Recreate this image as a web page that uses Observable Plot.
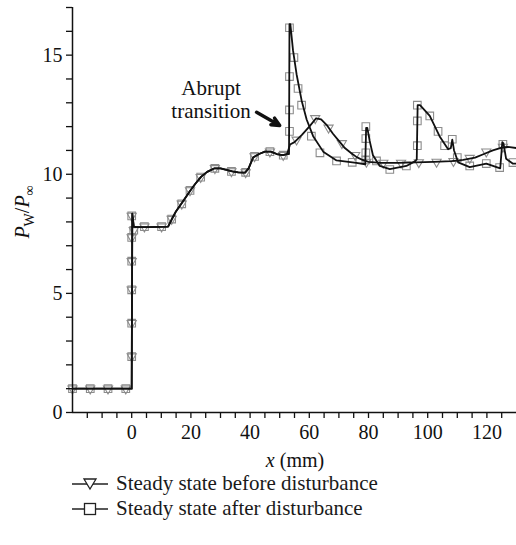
<!DOCTYPE html>
<html><head><meta charset="utf-8">
<script src="https://cdn.jsdelivr.net/npm/d3@7"></script>
<script src="https://cdn.jsdelivr.net/npm/@observablehq/plot@0.6"></script>
<style>
body{margin:0;background:#fff;font-family:"Liberation Serif",serif;}
#wrap{position:relative;width:516px;height:545px;}
#legend{position:absolute;left:72px;top:471px;font-size:21px;color:#1a1a1a;}
.row{display:flex;align-items:center;height:25px;}
.row svg{margin-right:8px;}
</style></head><body>
<div id="wrap"><div id="chart"></div><div id="legend"></div></div>
<script>
// ---- data ----
const seriesNames = ["Steady state before disturbance", "Steady state after disturbance"];

// common part of both curves (x in mm, y = Pw/P∞)
const sharedLineX = [-20, 0, 0.2, 0.7, 1.5, 6, 12.3, 13.5, 15, 17, 19.7, 21.5, 23.5, 25.5, 28, 30, 32, 34, 36, 38.3, 39.5, 41, 43, 45, 47, 49, 51, 52.5];
const sharedLineY = [1.0, 1.0, 8.35, 7.8, 7.78, 7.78, 7.8, 8.1, 8.45, 8.8, 9.3, 9.6, 9.9, 10.1, 10.25, 10.25, 10.18, 10.12, 10.08, 10.07, 10.25, 10.7, 10.85, 10.95, 10.95, 10.85, 10.8, 10.85];
const beforeTailX = [53.5, 55, 57.5, 60, 62.3, 64, 66, 68, 70, 72, 74, 76, 78, 80, 84, 90, 96, 102, 108, 112, 116, 119, 122, 125, 127, 130];
const beforeTailY = [11.25, 11.35, 11.65, 12.0, 12.35, 12.3, 12.05, 11.7, 11.4, 11.1, 10.9, 10.72, 10.6, 10.52, 10.48, 10.48, 10.5, 10.52, 10.55, 10.6, 10.7, 10.85, 11.0, 11.12, 11.15, 11.1];
const afterTailX = [53.15, 53.3, 53.6, 54.5, 55.7, 57.4, 59.1, 61.3, 64.7, 69.2, 75.9, 78.9, 79.2, 79.6, 80.4, 81.5, 83.8, 87.2, 92.8, 95.8, 96.3, 96.6, 97.4, 100.7, 104, 106.9, 107.8, 108.3, 108.9, 110.3, 114.2, 119.8, 124.5, 125.2, 125.6, 126.5, 128.7, 130];
const afterTailY = [10.85, 16.3, 16.3, 15.2, 14.2, 13.1, 12.3, 11.6, 10.95, 10.58, 10.48, 10.42, 11.95, 11.95, 11.4, 10.8, 10.35, 10.22, 10.35, 10.55, 10.62, 12.9, 12.9, 12.45, 11.6, 11.05, 11.1, 11.45, 11.0, 10.5, 10.3, 10.45, 10.25, 11.35, 11.3, 10.65, 10.45, 10.45];

// marker positions
const sharedMarkX = [-20, -14, -8, -2, 0, 0, 0, 0, 0, 0, 0.7, 4.3, 10.1, 13.5, 16.9, 19.7, 23.3, 28.1, 33.7, 38.5, 41.5, 46.7, 51.2];
const sharedMarkY = [1.0, 1.0, 1.0, 1.0, 2.35, 3.75, 5.15, 6.35, 7.35, 8.25, 7.65, 7.8, 7.8, 8.12, 8.76, 9.32, 9.88, 10.25, 10.12, 10.08, 10.75, 10.95, 10.8];
const beforeMarkTailX = [55.7, 62, 66.5, 71, 75.5, 79.3, 85, 91, 97, 103, 108.7, 114.2, 119.8, 125.4];
const beforeMarkTailY = [11.45, 12.35, 11.95, 11.3, 10.8, 10.52, 10.48, 10.48, 10.5, 10.52, 10.55, 10.68, 10.95, 11.15];
const afterMarkTailX = [53.3, 53.3, 53.3, 53.3, 54.8, 56.2, 57.4, 60.7, 63.6, 69.2, 74.5, 79.1, 79.1, 79.1, 79.1, 82.7, 87.2, 92.8, 96.5, 96.5, 96.5, 100.7, 103.5, 105.7, 108.3, 110, 114.2, 119.8, 124.3, 125.4, 128.8];
const afterMarkTailY = [11.8, 12.7, 14.1, 16.15, 14.9, 13.6, 12.9, 11.6, 10.9, 10.56, 10.5, 12.0, 11.5, 10.9, 10.6, 10.56, 10.2, 10.35, 11.2, 12.24, 12.9, 12.45, 11.8, 11.2, 11.47, 10.7, 10.35, 10.45, 10.28, 11.26, 10.49];

// annotation
const annotText = ["Abrupt\ntransition"];
const annotXY = [26.8, 13.17];
const arrowXY = [42.2, 12.6, 50.0, 12.05];

const yTicks = d3.range(0, 18, 1);
const xTicks = d3.range(-15, 130, 5);

// ---- build tables ----
const zip = (xs, ys) => xs.map((x, i) => ({x, y: ys[i]}));
const beforeLine = zip(sharedLineX.concat(beforeTailX), sharedLineY.concat(beforeTailY));
const afterLine = zip(sharedLineX.concat(afterTailX), sharedLineY.concat(afterTailY));
const beforeMarks = zip(sharedMarkX.concat(beforeMarkTailX), sharedMarkY.concat(beforeMarkTailY));
const afterMarks = zip(sharedMarkX.concat(afterMarkTailX), sharedMarkY.concat(afterMarkTailY));

const markerColor = "#8c8c8c";
const serif = "Liberation Serif";

const chart = Plot.plot({
  width: 516, height: 470,
  marginLeft: 72, marginRight: 0, marginTop: 7, marginBottom: 58,
  style: {fontFamily: serif, fontSize: "20px", color: "#111", background: "white", overflow: "visible"},
  x: {domain: [-20, 130], axis: null},
  y: {domain: [0, 17], axis: null},
  marks: [
    Plot.dot(afterMarks, {x: "x", y: "y", symbol: "square", r: 4.3, stroke: markerColor, strokeWidth: 1.1, fill: "none"}),
    Plot.dot(beforeMarks, {x: "x", y: "y", symbol: "triangle", rotate: 180, r: 3.4, stroke: markerColor, strokeWidth: 1.1, fill: "none"}),
    Plot.line(beforeLine, {x: "x", y: "y", stroke: "#111", strokeWidth: 1.8}),
    Plot.line(afterLine, {x: "x", y: "y", stroke: "#111", strokeWidth: 1.8}),
    Plot.ruleX([-20], {y1: 0, y2: 17, stroke: "#111", strokeWidth: 1.5}),
    Plot.ruleY([0], {x1: -20, x2: 130, stroke: "#111", strokeWidth: 1.5}),
    Plot.axisY({ticks: yTicks, tickFormat: d => d % 5 === 0 ? String(d) : "", tickSize: 6, tickPadding: 4, strokeWidth: 1.3, label: null, fontSize: 20}),
    Plot.axisX({ticks: xTicks, tickFormat: d => d % 20 === 0 ? String(d) : "", tickSize: 6, tickPadding: 6, strokeWidth: 1.3, label: null, fontSize: 20}),
    Plot.text(annotText, {x: annotXY[0], y: annotXY[1], text: d => d, fontSize: 21, lineHeight: 1.1, textAnchor: "middle", fill: "#111"}),
    Plot.arrow([arrowXY], {x1: d => d[0], y1: d => d[1], x2: d => d[2], y2: d => d[3], stroke: "#111", strokeWidth: 3.5, headLength: 9, headAngle: 50})
  ]
});
document.getElementById("chart").append(chart);

// axis titles as real text with rich formatting
const svg = d3.select(chart);
const xl = svg.append("text").attr("x", 295).attr("y", 467).attr("text-anchor", "middle")
  .attr("font-size", 20).attr("fill", "#111");
xl.append("tspan").attr("font-style", "italic").text("x");
xl.append("tspan").text(" (mm)");

const yl = svg.append("text").attr("transform", "translate(29,212) rotate(-90)").attr("text-anchor", "middle")
  .attr("font-size", 20).attr("fill", "#111");
yl.append("tspan").attr("font-style", "italic").text("P");
yl.append("tspan").attr("font-size", 14).attr("dy", 5).text("W");
yl.append("tspan").attr("dy", -5).text("/");
yl.append("tspan").attr("font-style", "italic").text("P");
yl.append("tspan").attr("font-size", 14).attr("dy", 5).text("∞");

// legend
const legend = d3.select("#legend");
seriesNames.forEach((name, i) => {
  const row = legend.append("div").attr("class", "row");
  const s = row.append("svg").attr("width", 36).attr("height", 20);
  s.append("line").attr("x1", 0).attr("x2", 36).attr("y1", 10).attr("y2", 10).attr("stroke", "#222").attr("stroke-width", 1.4);
  if (i === 0) {
    s.append("path").attr("d", "M12,5 L24,5 L18,15 Z").attr("fill", "white").attr("stroke", "#222").attr("stroke-width", 1.3);
  } else {
    s.append("rect").attr("x", 12.5).attr("y", 4.5).attr("width", 11).attr("height", 11).attr("fill", "white").attr("stroke", "#222").attr("stroke-width", 1.3);
  }
  row.append("span").text(name);
});
</script>
</body></html>
